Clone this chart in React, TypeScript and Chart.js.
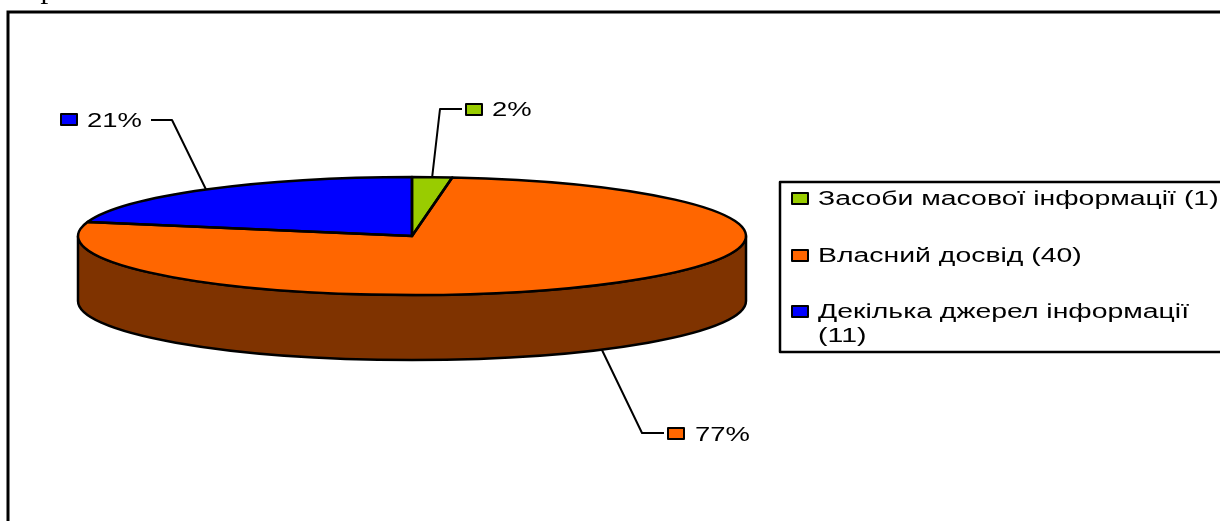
import React, { useEffect, useRef } from "react";
import { Chart, registerables } from "chart.js";

Chart.register(...registerables);

const categories = ["Засоби масової інформації (1)", "Власний досвід (40)", "Декілька джерел інформації (11)"];
const values = [1, 40, 11];
const percentLabels = ["2%", "77%", "21%"];
const sliceColors = ["#99CC00", "#FF6600", "#0000FF"];
const legendLines = [["Засоби масової інформації (1)"], ["Власний досвід (40)"], ["Декілька джерел інформації", "(11)"]];

const WALL_COLOR = "#7F3300";
const SQUASH = 59 / 334;
const DEPTH = 65;
const FONT = "20px 'Liberation Sans', Arial, sans-serif";
const LABEL_STRETCH = 1.37;
const LEGEND_STRETCH = 1.42;

// Data-label layout: elbow of the leader, leader end, swatch left/top, text x, baseline
const labelLayout = [
  { elbowX: 440, elbowY: 109, endX: 462, swatchX: 466, swatchY: 104, textX: 492, baseY: 116, wall: false },
  { elbowX: 642, elbowY: 433, endX: 664, swatchX: 668, swatchY: 428, textX: 695, baseY: 441, wall: true },
  { elbowX: 172, elbowY: 120, endX: 151, swatchX: 61, swatchY: 114, textX: 87, baseY: 127, wall: false },
];
const legendLayout = { left: 780, top: 182, bottom: 352, right: 1240, swatchX: 792, textX: 818, lineGap: 24 };
const legendBaselines = [205, 262, 318];

function stretchedText(ctx: CanvasRenderingContext2D, text: string, x: number, y: number, stretch: number) {
  ctx.save();
  ctx.translate(x, y);
  ctx.scale(stretch, 1);
  ctx.font = FONT;
  ctx.fillStyle = "#000";
  ctx.textAlign = "left";
  ctx.textBaseline = "alphabetic";
  ctx.fillText(text, 0, 0);
  ctx.restore();
}

function swatch(ctx: CanvasRenderingContext2D, x: number, y: number, color: string) {
  ctx.fillStyle = color;
  ctx.strokeStyle = "#000";
  ctx.lineWidth = 2;
  ctx.fillRect(x, y, 16, 11);
  ctx.strokeRect(x, y, 16, 11);
}

const pie3dPlugin = {
  id: "pie3d",
  beforeDatasetsDraw(chart: any) {
    const ctx: CanvasRenderingContext2D = chart.ctx;
    const first = chart.getDatasetMeta(0).data[0];
    const { x, y, outerRadius: r } = first.getProps(["x", "y", "outerRadius"], true);
    ctx.save();
    // side wall of the disc
    ctx.beginPath();
    ctx.ellipse(x, y + DEPTH, r, r * SQUASH, 0, 0, Math.PI);
    ctx.lineTo(x - r, y);
    ctx.ellipse(x, y, r, r * SQUASH, 0, Math.PI, 0, true);
    ctx.closePath();
    ctx.fillStyle = WALL_COLOR;
    ctx.fill();
    ctx.strokeStyle = "#000";
    ctx.lineWidth = 2.5;
    ctx.lineJoin = "round";
    ctx.stroke();
    // the library's arcs are drawn squashed into an ellipse
    ctx.translate(x, y);
    ctx.scale(1, SQUASH);
    ctx.translate(-x, -y);
  },
  afterDatasetsDraw(chart: any) {
    const ctx: CanvasRenderingContext2D = chart.ctx;
    ctx.restore();
    const meta = chart.getDatasetMeta(0);

    // slice outlines, constant width
    ctx.strokeStyle = "#000";
    ctx.lineWidth = 2.5;
    ctx.lineJoin = "round";
    meta.data.forEach((arc: any) => {
      const p = arc.getProps(["x", "y", "startAngle", "endAngle", "outerRadius"], true);
      ctx.beginPath();
      ctx.ellipse(p.x, p.y, p.outerRadius, p.outerRadius * SQUASH, 0, p.startAngle, p.endAngle);
      ctx.lineTo(p.x, p.y);
      ctx.closePath();
      ctx.stroke();
    });

    // data labels with leaders
    meta.data.forEach((arc: any, i: number) => {
      const p = arc.getProps(["x", "y", "startAngle", "endAngle", "outerRadius"], true);
      const mid = (p.startAngle + p.endAngle) / 2;
      const l = labelLayout[i];
      const ax = p.x + p.outerRadius * Math.cos(mid);
      const ay = p.y + p.outerRadius * SQUASH * Math.sin(mid) + (l.wall ? DEPTH : 0);
      ctx.strokeStyle = "#000";
      ctx.lineWidth = 2;
      ctx.beginPath();
      ctx.moveTo(ax, ay);
      ctx.lineTo(l.elbowX, l.elbowY);
      ctx.lineTo(l.endX, l.elbowY);
      ctx.stroke();
      swatch(ctx, l.swatchX, l.swatchY, sliceColors[i]);
      stretchedText(ctx, percentLabels[i], l.textX, l.baseY, LABEL_STRETCH);
    });

    // legend
    const g = legendLayout;
    ctx.strokeStyle = "#000";
    ctx.lineWidth = 2.5;
    ctx.strokeRect(g.left, g.top, g.right - g.left, g.bottom - g.top);
    legendLines.forEach((lines, i) => {
      swatch(ctx, g.swatchX, legendBaselines[i] - 12, sliceColors[i]);
      lines.forEach((t, j) => stretchedText(ctx, t, g.textX, legendBaselines[i] + j * g.lineGap, LEGEND_STRETCH));
    });
  },
  beforeDraw(chart: any) {
    const ctx: CanvasRenderingContext2D = chart.ctx;
    ctx.save();
    ctx.fillStyle = "#fff";
    ctx.fillRect(0, 0, chart.width, chart.height);
    // outer frame, open at the right and at the bottom
    ctx.strokeStyle = "#000";
    ctx.lineWidth = 3;
    ctx.beginPath();
    ctx.moveTo(8, 530);
    ctx.lineTo(8, 12);
    ctx.lineTo(1230, 12);
    ctx.stroke();
    // clipped caption fragment above the frame
    ctx.fillStyle = "#000";
    ctx.font = "25px 'Liberation Serif', serif";
    ctx.textBaseline = "alphabetic";
    ctx.fillText("Р", 40, 4);
    ctx.restore();
  },
};

export default function App() {
  const ref = useRef<HTMLCanvasElement>(null);
  useEffect(() => {
    const chart = new Chart(ref.current!, {
      type: "pie",
      data: {
        labels: categories,
        datasets: [
          {
            data: values,
            backgroundColor: sliceColors,
            borderWidth: 0,
            clip: false,
          } as any,
        ],
      },
      options: {
        responsive: false,
        animation: false,
        devicePixelRatio: 1,
        radius: 334,
        layout: { padding: { left: 0, top: 0, right: 396, bottom: 49 } },
        plugins: { legend: { display: false }, tooltip: { enabled: false } },
      } as any,
      plugins: [pie3dPlugin],
    });
    return () => chart.destroy();
  }, []);
  return (
    <div style={{ position: "fixed", left: 0, top: 0, width: 1220, height: 521, overflow: "hidden", background: "#fff" }}>
      <canvas ref={ref} width={1220} height={521} style={{ display: "block" }} />
    </div>
  );
}
